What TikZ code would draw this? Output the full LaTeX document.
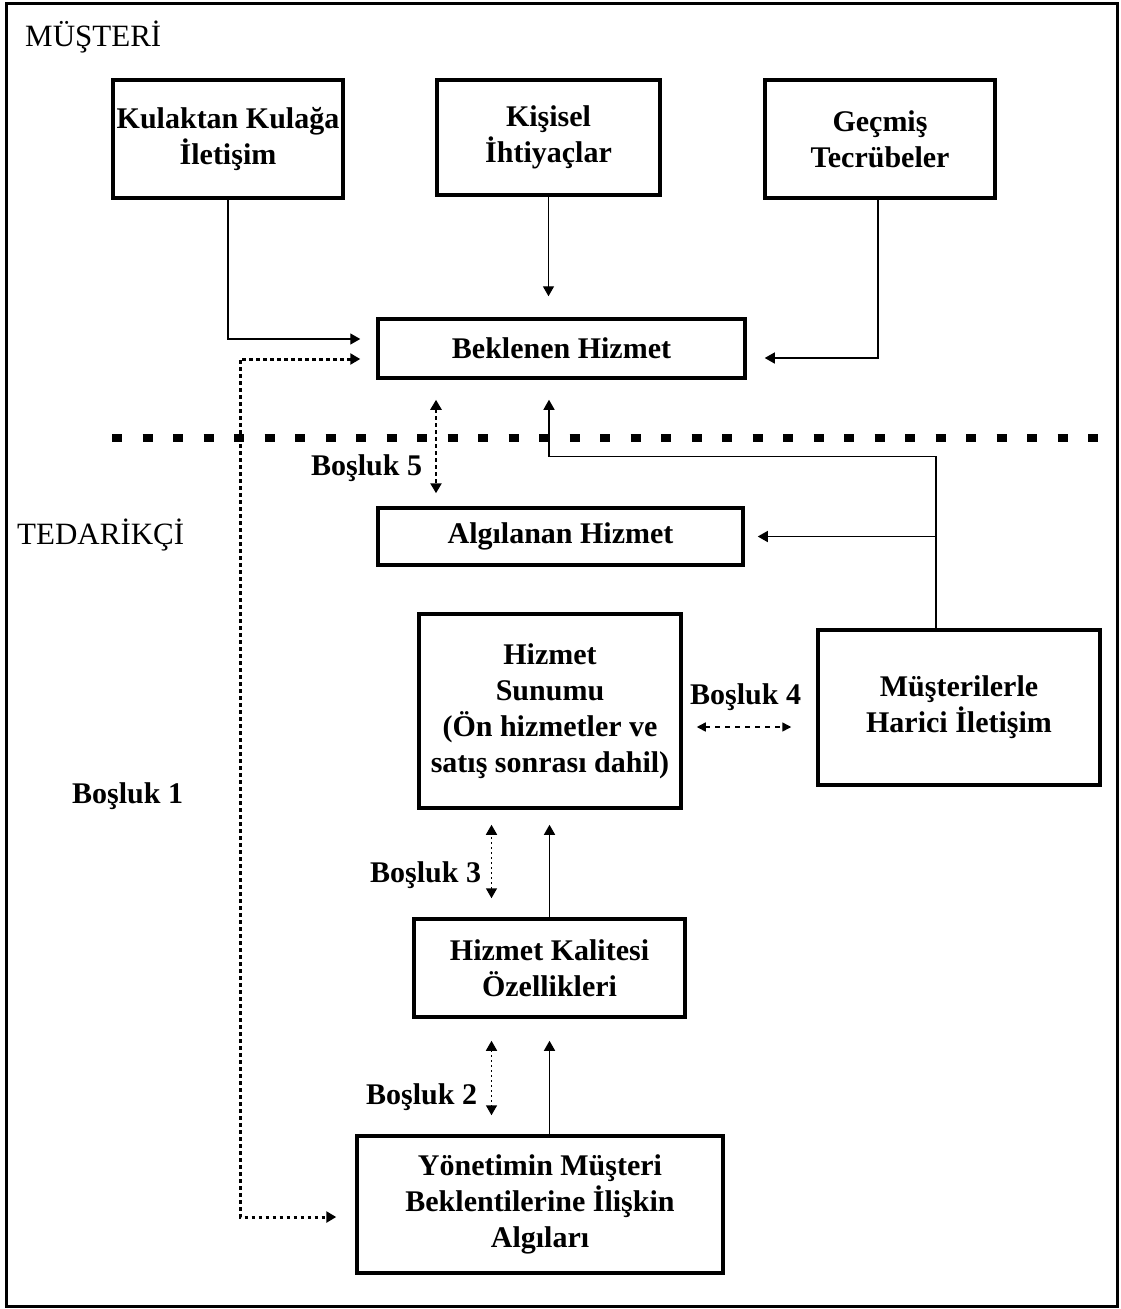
\documentclass[tikz,border=0pt]{standalone}
\usepackage{fontspec}
\setmainfont{Liberation Serif}
\usetikzlibrary{arrows.meta,calc}

\newcommand\bxfont{\fontsize{30}{36}\selectfont\bfseries}
\newcommand\hdfont{\fontsize{31}{36}\selectfont}

\tikzset{
  box/.style={draw, line width=3.5pt, align=center, inner sep=0pt, font=\bxfont},
  lbl/.style={inner sep=0pt, anchor=base west, font=\bxfont},
  head/.style={inner sep=0pt, anchor=base west, font=\hdfont},
  tip/.style={-{Triangle[length=10pt,width=11pt]}},
  conn/.style={line width=1.4pt, tip},
  gapdots/.style={line width=3pt, dash pattern=on 3.5pt off 3.5pt,
    {Triangle[length=10pt,width=11pt]}-{Triangle[length=10pt,width=11pt]}},
  gapfine/.style={line width=1.5pt, dash pattern=on 2pt off 3pt,
    {Triangle[length=10pt,width=11pt]}-{Triangle[length=10pt,width=11pt]}},
  gapdash/.style={line width=1.5pt, dash pattern=on 5pt off 5pt,
    {Triangle[length=9pt,width=9pt]}-{Triangle[length=9pt,width=9pt]}},
  divider/.style={line width=8pt, dash pattern=on 10pt off 20.5pt}
}

\begin{document}
\begin{tikzpicture}[x=1pt,y=-1pt]
\useasboundingbox (0,0) rectangle (1120,1309);
\draw[line width=3pt] (6,3) rectangle (1117,1306);

% section headings
\node[head] (musteri) at (25,46) {MÜŞTERİ};
\node[head] (tedarikci) at (17,544) {TEDARİKÇİ};

% customer side
\node[box, minimum width=230pt, minimum height=118pt] (kk) at (228,139) {Kulaktan Kulağa\\İletişim};
\node[box, minimum width=223pt, minimum height=115pt] (ki) at (548.5,137.5) {Kişisel\\İhtiyaçlar};
\node[box, minimum width=230pt, minimum height=118pt] (gt) at (880,139) {Geçmiş\\Tecrübeler};
\node[box, minimum width=367pt, minimum height=59pt] (bh) at (561.5,348.5) {Beklenen Hizmet};

% divider between customer and supplier
\coordinate (dl) at (112,438);
\coordinate (dr) at (1102,438);
\draw[divider] (dl) -- (dr);

% supplier side
\node[box, minimum width=365pt, minimum height=57pt] (ah) at (560.5,536.5) {Algılanan Hizmet};
\node[box, minimum width=262pt, minimum height=194pt] (hs) at (550,711) {Hizmet\\Sunumu\\(Ön hizmetler ve\\satış sonrası dahil)};
\node[box, minimum width=282pt, minimum height=155pt] (mh) at (959,707.5) {Müşterilerle\\Harici İletişim};
\node[box, minimum width=271pt, minimum height=98pt] (hk) at (549.5,968) {Hizmet Kalitesi\\Özellikleri};
\node[box, minimum width=366pt, minimum height=137pt] (yo) at (540,1204.5) {Yönetimin Müşteri\\Beklentilerine İlişkin\\Algıları};

% inputs to expected service
\draw[conn, shorten >=16pt] (kk.south) |- ([yshift=9.5pt]bh.west);
\draw[conn, shorten >=21pt] (ki.south) -- (ki.south |- bh.north);
\draw[conn, shorten >=18pt] ([xshift=-2pt]gt.south) |- ([yshift=-9.5pt]bh.east);

% external communication
\coordinate (m1) at ([xshift=-23pt]mh.north);
\draw[conn, shorten >=20pt] (m1) -- ++(0,-172) -| ([xshift=-12.5pt]bh.south);
\draw[conn, shorten >=13pt] (m1 |- ah.east) -- (ah.east);

% delivery chain
\draw[conn, shorten >=15pt] (hk.north) -- (hk.north |- hs.south);
\draw[conn, shorten >=22pt] (hk.south |- yo.north) -- (hk.south);

% gaps
\draw[gapdots, shorten <=16pt, shorten >=19pt]
  ([yshift=-10.5pt]bh.west) -- ++(-136,0) |- ([yshift=-12.5pt]yo.west);
\coordinate (g5) at ([xshift=-125.5pt]bh.south);
\draw[gapdots, line width=2.6pt, shorten <=20pt, shorten >=13pt] (g5) -- (g5 |- ah.north);
\coordinate (g4) at ([yshift=-16pt]hs.east);
\draw[gapdash, shorten <=14pt, shorten >=25pt] (g4) -- (g4 -| mh.west);
\coordinate (g3) at ([xshift=-58pt]hk.north);
\draw[gapfine, shorten <=19pt, shorten >=15pt] (g3) -- (g3 |- hs.south);
\coordinate (g2) at ([xshift=-58pt]hk.south);
\draw[gapfine, shorten <=22pt, shorten >=19pt] (g2) -- (g2 |- yo.north);

% gap labels
\node[lbl] (l1) at (72,803) {Boşluk 1};
\node[lbl] (l2) at (366,1104) {Boşluk 2};
\node[lbl] (l3) at (370,882) {Boşluk 3};
\node[lbl] (l4) at (690,704) {Boşluk 4};
\node[lbl] (l5) at (311,475) {Boşluk 5};
\end{tikzpicture}
\end{document}
